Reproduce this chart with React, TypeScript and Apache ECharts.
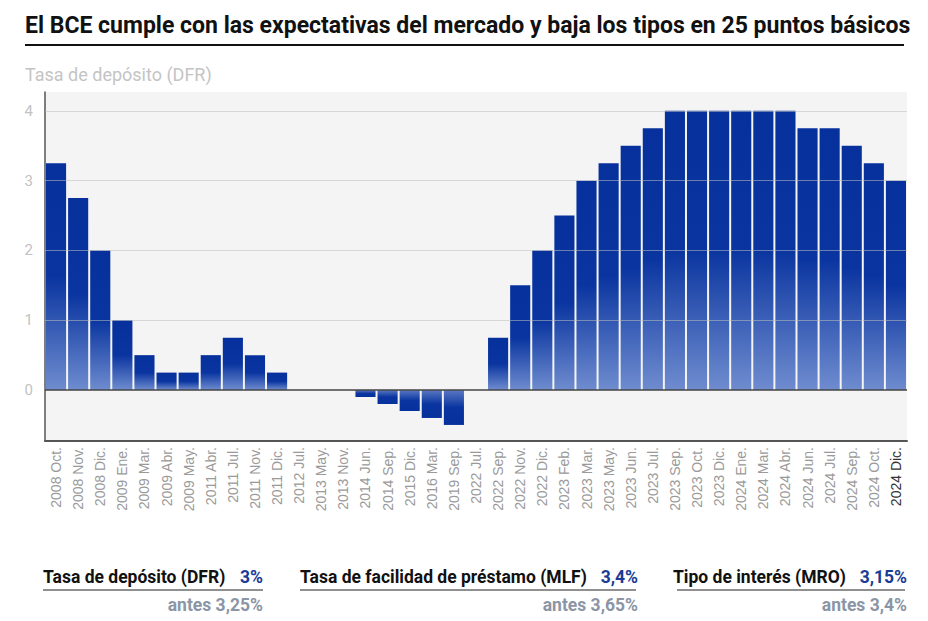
import React, { useEffect, useRef } from "react";
import * as echarts from "echarts";

const categories = [
  "2008 Oct.", "2008 Nov.", "2008 Dic.", "2009 Ene.", "2009 Mar.", "2009 Abr.", "2009 May.",
  "2011 Abr.", "2011 Jul.", "2011 Nov.", "2011 Dic.", "2012 Jul.", "2013 May.", "2013 Nov.",
  "2014 Jun.", "2014 Sep.", "2015 Dic.", "2016 Mar.", "2019 Sep.", "2022 Jul.", "2022 Sep.",
  "2022 Nov.", "2022 Dic.", "2023 Feb.", "2023 Mar.", "2023 May.", "2023 Jun.", "2023 Jul.",
  "2023 Sep.", "2023 Oct.", "2023 Dic.", "2024 Ene.", "2024 Mar.", "2024 Abr.", "2024 Jun.",
  "2024 Jul.", "2024 Sep.", "2024 Oct.", "2024 Dic.",
];

const dfrValues = [
  3.25, 2.75, 2.0, 1.0, 0.5, 0.25, 0.25,
  0.5, 0.75, 0.5, 0.25, 0, 0, 0,
  -0.1, -0.2, -0.3, -0.4, -0.5, 0, 0.75,
  1.5, 2.0, 2.5, 3.0, 3.25, 3.5, 3.75,
  4, 4, 4, 4, 4, 4, 3.75,
  3.75, 3.5, 3.25, 3.0,
];

const yTicks = [0, 1, 2, 3, 4];

const summaryLabels = ["Tasa de depósito (DFR)", "Tasa de facilidad de préstamo (MLF)", "Tipo de interés (MRO)"];
const summaryValues = ["3%", "3,4%", "3,15%"];
const summaryPrevious = ["antes 3,25%", "antes 3,65%", "antes 3,4%"];

const TITLE = "El BCE cumple con las expectativas del mercado y baja los tipos en 25 puntos básicos";
const SUBTITLE = "Tasa de depósito (DFR)";

const DARK = "#06309c";
const LIGHT = "#6f8ccf";

export default function App() {
  const ref = useRef<HTMLDivElement>(null);

  useEffect(() => {
    if (!ref.current) return;
    const chart = echarts.init(ref.current, null, { renderer: "svg" });

    const posGrad = new echarts.graphic.LinearGradient(0, 0, 0, 1, [
      { offset: 0, color: DARK },
      { offset: 0.5, color: "#0a35a0" },
      { offset: 1, color: LIGHT },
    ]);
    const negGrad = new echarts.graphic.LinearGradient(0, 0, 0, 1, [
      { offset: 0, color: "#5a78c2" },
      { offset: 0.5, color: "#0a35a0" },
      { offset: 1, color: DARK },
    ]);

    const data = dfrValues.map((v) => ({
      value: v,
      itemStyle: { color: v >= 0 ? posGrad : negGrad },
    }));

    const heavy = "bold 17.5px Roboto, 'Noto Sans', sans-serif";

    // bottom summary blocks
    const blocks = [
      { left: 43, right: 263 },
      { left: 300, right: 638 },
      { left: 673, right: 907 },
    ];
    const summaryGraphics: any[] = [];
    blocks.forEach((b, i) => {
      summaryGraphics.push({
        type: "text",
        x: b.left,
        y: 577,
        style: {
          text: summaryLabels[i],
          fill: "#111",
          font: heavy,
          textAlign: "left",
          textVerticalAlign: "middle",
        },
      });
      summaryGraphics.push({
        type: "text",
        x: b.right,
        y: 577,
        style: {
          text: summaryValues[i],
          fill: "#1a3c95",
          font: heavy,
          textAlign: "right",
          textVerticalAlign: "middle",
        },
      });
      summaryGraphics.push({
        type: "line",
        shape: { x1: b.left + (i === 2 ? 4 : 0), y1: 590, x2: b.right - (i === 0 ? 0 : 2), y2: 590 },
        style: { stroke: "#222", lineWidth: 1.2 },
      });
      summaryGraphics.push({
        type: "text",
        x: b.right,
        y: 605,
        style: {
          text: summaryPrevious[i],
          fill: "#8b95a5",
          font: heavy,
          textAlign: "right",
          textVerticalAlign: "middle",
        },
      });
    });

    chart.setOption({
      animation: false,
      backgroundColor: "#ffffff",
      grid: {
        left: 45,
        right: 21,
        top: 92,
        bottom: 180,
        show: true,
        backgroundColor: "#f4f4f4",
        borderWidth: 0,
      },
      xAxis: {
        type: "category",
        data: categories,
        axisLine: { show: true, onZero: false, lineStyle: { color: "#555", width: 2 } },
        axisTick: { show: false },
        axisLabel: {
          rotate: 90,
          interval: 0,
          margin: 6,
          fontFamily: "'Liberation Sans', Arial, sans-serif",
          fontSize: 14,
          color: (val: string, idx: number) => (idx === categories.length - 1 ? "#333" : "#9a9a9a"),
        },
        splitLine: { show: false },
      },
      yAxis: {
        type: "value",
        min: -0.73,
        max: 4.27,
        axisLine: { show: true, lineStyle: { color: "#555", width: 1.5 } },
        axisTick: { show: false },
        splitLine: { show: false },
        axisLabel: {
          margin: 12,
          fontFamily: "Roboto, 'Noto Sans', sans-serif",
          fontSize: 15,
          color: "#c2c2c2",
          formatter: (v: number) => (yTicks.indexOf(Math.round(v * 1000) / 1000) >= 0 ? String(v) : ""),
        },
      },
      series: [
        {
          type: "bar",
          data,
          barCategoryGap: "9%",
          silent: true,
          markLine: {
            silent: true,
            symbol: "none",
            label: { show: false },
            data: yTicks.map((t) => ({
              yAxis: t,
              lineStyle: t === 0
                ? { color: "#444", width: 1.5, type: "solid" }
                : { color: "rgba(190,190,190,0.55)", width: 1, type: "solid" },
            })),
          },
        },
      ],
      graphic: [
        {
          type: "text",
          x: 25,
          y: 25,
          style: {
            text: TITLE,
            fill: "#111",
            font: "bold 23px Roboto, 'Noto Sans', sans-serif",
            textAlign: "left",
            textVerticalAlign: "middle",
          },
        },
        {
          type: "line",
          shape: { x1: 25, y1: 45, x2: 904, y2: 45 },
          style: { stroke: "#111", lineWidth: 2 },
        },
        {
          type: "text",
          x: 25,
          y: 74,
          style: {
            text: SUBTITLE,
            fill: "#c4c4c4",
            font: "18px Roboto, 'Noto Sans', sans-serif",
            textAlign: "left",
            textVerticalAlign: "middle",
          },
        },
        ...summaryGraphics,
      ],
    });

    return () => chart.dispose();
  }, []);

  return (
    <div
      ref={ref}
      style={{ position: "fixed", left: 0, top: 0, width: 928, height: 621, background: "#fff" }}
    />
  );
}
